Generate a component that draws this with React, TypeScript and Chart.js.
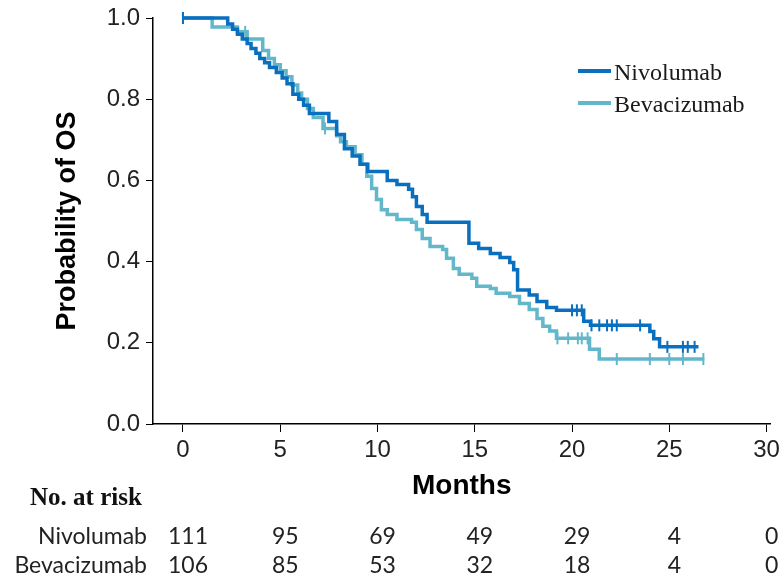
import { useEffect, useRef } from "react";
import { Chart, registerables } from "chart.js";

Chart.register(...registerables);

// ---------- data ----------
const seriesNames = ["Nivolumab", "Bevacizumab"];
const xTicks = [0, 5, 10, 15, 20, 25, 30];
const yTicks = [0, 0.2, 0.4, 0.6, 0.8, 1.0];

const nivoTimes = [0, 2.3, 2.55, 2.8, 3.05, 3.3, 3.5, 3.75, 3.95, 4.2, 4.45, 4.8, 5.1, 5.35, 5.65, 5.95, 6.2, 6.5, 7.5, 7.9, 8.3, 8.7, 9.1, 9.5, 10.5, 11.0, 11.6, 11.8, 12.0, 12.3, 12.55, 14.7, 15.2, 15.8, 16.3, 16.8, 17.0, 17.2, 17.8, 18.2, 18.7, 19.2, 20.6, 20.95, 24.0, 24.2, 24.5, 26.5];
const nivoSurv = [1.0, 0.985, 0.972, 0.96, 0.948, 0.937, 0.925, 0.913, 0.9, 0.89, 0.878, 0.866, 0.852, 0.838, 0.812, 0.8, 0.785, 0.765, 0.745, 0.713, 0.678, 0.66, 0.64, 0.622, 0.6, 0.59, 0.578, 0.56, 0.536, 0.516, 0.497, 0.445, 0.432, 0.42, 0.41, 0.398, 0.38, 0.33, 0.318, 0.302, 0.287, 0.28, 0.253, 0.243, 0.228, 0.21, 0.19, 0.19];
const nivoCensor = [0, 20.0, 20.25, 20.5, 21.0, 21.4, 21.8, 22.05, 22.3, 23.5, 24.9, 25.7, 25.95, 26.3];

const bevaTimes = [0, 1.5, 2.8, 3.3, 4.1, 4.4, 4.7, 5.0, 5.3, 5.6, 5.9, 6.1, 6.4, 6.7, 7.2, 7.9, 8.1, 8.4, 8.85, 9.2, 9.45, 9.7, 9.95, 10.2, 10.5, 11.0, 11.75, 12.0, 12.3, 12.7, 13.35, 13.55, 13.9, 14.2, 14.85, 15.1, 15.8, 16.1, 16.8, 17.3, 17.8, 18.2, 18.5, 18.85, 19.2, 20.9, 21.4, 26.8];
const bevaSurv = [1.0, 0.978, 0.966, 0.948, 0.92, 0.9, 0.885, 0.87, 0.855, 0.835, 0.815, 0.8, 0.777, 0.755, 0.728, 0.71, 0.695, 0.683, 0.663, 0.64, 0.61, 0.58, 0.553, 0.528, 0.516, 0.504, 0.497, 0.479, 0.457, 0.437, 0.43, 0.408, 0.383, 0.369, 0.359, 0.339, 0.334, 0.322, 0.314, 0.297, 0.282, 0.26, 0.241, 0.229, 0.211, 0.184, 0.16, 0.16];
const bevaCensor = [0, 3.2, 7.3, 19.25, 19.8, 20.3, 20.5, 20.8, 22.3, 24.0, 25.0, 25.7, 26.75];

const riskTimes = [0, 5, 10, 15, 20, 25, 30];
const nivoRisk = [111, 95, 69, 49, 29, 4, 0];
const bevaRisk = [106, 85, 53, 32, 18, 4, 0];

const colors = ["#0B6FBF", "#63B7CB"];

// ---------- helpers ----------
function survAt(times: number[], surv: number[], t: number): number {
  let s = surv[0];
  for (let i = 0; i < times.length; i++) if (times[i] <= t) s = surv[i];
  return s;
}
const curve = (times: number[], surv: number[]) => times.map((t, i) => ({ x: t, y: surv[i] }));
const censorPts = (c: number[], times: number[], surv: number[]) => c.map((t) => ({ x: t, y: survAt(times, surv, t) }));

const overlayPlugin = {
  id: "overlay",
  afterDraw(chart: any) {
    const ctx = chart.ctx;
    const xs = chart.scales.x;
    ctx.save();
    // legend
    const legendY = [71, 103];
    seriesNames.forEach((name, i) => {
      ctx.strokeStyle = colors[i];
      ctx.lineWidth = 4;
      ctx.beginPath();
      ctx.moveTo(578, legendY[i]);
      ctx.lineTo(611, legendY[i]);
      ctx.stroke();
      ctx.fillStyle = "#1a1a1a";
      ctx.font = '24px "Liberation Serif", "Times New Roman", serif';
      ctx.textAlign = "left";
      ctx.textBaseline = "alphabetic";
      ctx.fillText(name, 614, legendY[i] + 9);
    });
    // risk table
    ctx.fillStyle = "#111";
    ctx.font = 'bold 25px "Liberation Serif", "Times New Roman", serif';
    ctx.textAlign = "left";
    ctx.fillText("No. at risk", 30, 505);
    ctx.font = '23px Lato, "Open Sans", sans-serif';
    ctx.fillStyle = "#222";
    const rows = [nivoRisk, bevaRisk];
    const rowY = [544, 573];
    rows.forEach((vals, r) => {
      ctx.textAlign = "right";
      ctx.fillText(seriesNames[r], 147, rowY[r]);
      ctx.textAlign = "center";
      vals.forEach((v, i) => {
        ctx.fillText(String(v), xs.getPixelForValue(riskTimes[i]) + 5, rowY[r]);
      });
    });
    ctx.restore();
  },
};

export default function App() {
  const ref = useRef<HTMLCanvasElement>(null);
  useEffect(() => {
    if (!ref.current) return;
    const chart = new Chart(ref.current, {
      type: "line",
      data: {
        datasets: [
          {
            label: seriesNames[0],
            data: curve(nivoTimes, nivoSurv),
            borderColor: colors[0],
            borderWidth: 3.5,
            stepped: "before",
            pointRadius: 0,
            fill: false,
            clip: false as any,
            order: 1,
          },
          {
            label: seriesNames[1],
            data: curve(bevaTimes, bevaSurv),
            borderColor: colors[1],
            borderWidth: 3.5,
            stepped: "before",
            pointRadius: 0,
            fill: false,
            clip: false as any,
            order: 2,
          },
          {
            label: seriesNames[0] + " censored",
            data: censorPts(nivoCensor, nivoTimes, nivoSurv),
            showLine: false,
            pointStyle: "line",
            rotation: 90,
            pointRadius: 6,
            borderWidth: 2,
            borderColor: colors[0],
            backgroundColor: colors[0],
            clip: false as any,
            order: 0,
          },
          {
            label: seriesNames[1] + " censored",
            data: censorPts(bevaCensor, bevaTimes, bevaSurv),
            showLine: false,
            pointStyle: "line",
            rotation: 90,
            pointRadius: 6,
            borderWidth: 2,
            borderColor: colors[1],
            backgroundColor: colors[1],
            clip: false as any,
            order: 1,
          },
        ],
      },
      options: {
        responsive: false,
        animation: false,
        devicePixelRatio: 1,
        layout: { padding: { top: 12, right: 13, left: 0, bottom: 0 } },
        plugins: { legend: { display: false }, tooltip: { enabled: false } },
        scales: {
          x: {
            type: "linear",
            min: -1.54,
            max: 30.2,
            afterBuildTicks: (s: any) => {
              s.ticks = xTicks.map((v) => ({ value: v }));
            },
            afterFit: (s: any) => {
              s.height = 152;
            },
            border: { display: true, color: "#000", width: 1.5 },
            grid: { display: true, drawOnChartArea: false, drawTicks: true, tickLength: 8, tickColor: "#000", tickWidth: 1 },
            ticks: {
              padding: 4,
              color: "#222",
              font: { family: '"Liberation Sans", Arial, sans-serif', size: 24 },
              maxRotation: 0,
              autoSkip: false,
            },
            title: {
              display: true,
              text: "Months",
              color: "#000",
              font: { family: '"Liberation Sans", Arial, sans-serif', size: 28, weight: "bold" },
              padding: { top: 0, bottom: 73 },
            },
          },
          y: {
            type: "linear",
            min: 0,
            max: 1,
            afterBuildTicks: (s: any) => {
              s.ticks = yTicks.map((v) => ({ value: v }));
            },
            afterFit: (s: any) => {
              s.width = 153;
            },
            border: { display: true, color: "#000", width: 1.5 },
            grid: { display: true, drawOnChartArea: false, drawTicks: true, tickLength: 7, tickColor: "#000", tickWidth: 1 },
            ticks: {
              padding: 6,
              color: "#222",
              font: { family: '"Liberation Sans", Arial, sans-serif', size: 24, lineHeight: 1 },
              callback: (v: any) => Number(v).toFixed(1),
            },
            title: {
              display: true,
              text: "Probability of OS",
              color: "#000",
              font: { family: '"Liberation Sans", Arial, sans-serif', size: 27, weight: "bold" },
              padding: { top: 51, bottom: 0 },
            },
          },
        },
      },
      plugins: [overlayPlugin],
    });
    return () => chart.destroy();
  }, []);
  return (
    <div style={{ position: "absolute", left: 0, top: 0, width: 784, height: 576, background: "#fff" }}>
      <canvas ref={ref} width={784} height={576} style={{ display: "block" }} />
    </div>
  );
}
